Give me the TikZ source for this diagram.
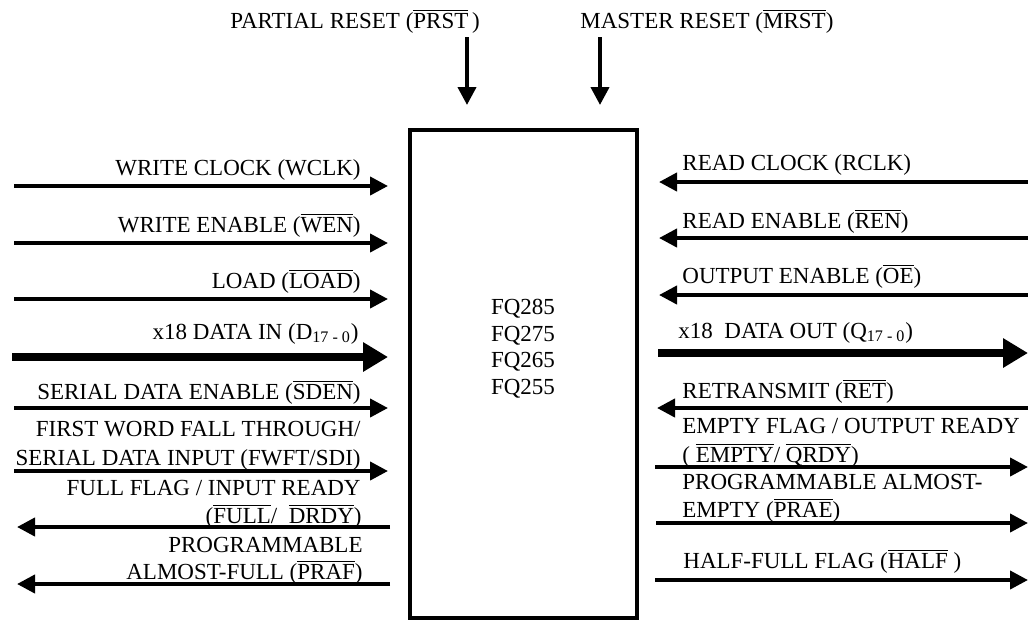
\documentclass[tikz,border=0pt]{standalone}
\usepackage{fontspec}
\setmainfont{Liberation Serif}
\usetikzlibrary{arrows.meta}
\newcommand{\olbar}[1]{$\overline{\mbox{#1}}$}
\begin{document}
\begin{tikzpicture}[x=0.5pt,y=-0.5pt,
  lbl/.style={inner sep=0pt, font=\fontsize{11.5pt}{14pt}\selectfont},
  lft/.style={lbl, anchor=base east},
  rgt/.style={lbl, anchor=base west},
  sig/.style={line width=2pt, -{Triangle[length=9pt,width=9pt]}},
  bus/.style={line width=4pt, -{Triangle[length=12.5pt,width=14pt]}},
  chip/.style={draw, line width=2pt, minimum width=113.5pt, minimum height=244pt, inner sep=0pt}
]
\useasboundingbox (0,0) rectangle (1028,622);

% chip
\node[chip] (chip) at (523.5,374) {};
\node[lbl, align=center, font=\fontsize{11.5pt}{13.25pt}\selectfont, anchor=base] (fq) at (523,394)
  {FQ285\\FQ275\\FQ265\\FQ255};

% top resets
\node[lbl, anchor=base west] (prstl) at (230,28) {PARTIAL RESET (\olbar{PRST}\,)};
\node[lbl, anchor=base west] (mrstl) at (580,28) {MASTER RESET (\olbar{MRST})};
\coordinate (prstA) at (467,37);  \coordinate (prstB) at (467,105);
\coordinate (mrstA) at (600,37);  \coordinate (mrstB) at (600,105);
\draw[sig] (prstA) -- (prstB);
\draw[sig] (mrstA) -- (mrstB);

% left side inputs
\coordinate (wclkA) at (14,186);  \coordinate (wclkB) at (388,186);
\coordinate (wenA) at (14,243);   \coordinate (wenB) at (388,243);
\coordinate (loadA) at (14,299);  \coordinate (loadB) at (388,299);
\coordinate (dinA) at (12,357);   \coordinate (dinB) at (388,357);
\coordinate (sdenA) at (14,408);  \coordinate (sdenB) at (388,408);
\coordinate (fwftA) at (14,471);  \coordinate (fwftB) at (388,471);
\coordinate (fullA) at (390,527); \coordinate (fullB) at (17,527);
\coordinate (prafA) at (390,584); \coordinate (prafB) at (17,584);

\draw[sig] (wclkA) -- (wclkB);
\draw[sig] (wenA) -- (wenB);
\draw[sig] (loadA) -- (loadB);
\draw[bus] (dinA) -- (dinB);
\draw[sig] (sdenA) -- (sdenB);
\draw[sig] (fwftA) -- (fwftB);
\draw[sig] (fullA) -- (fullB);
\draw[sig] (prafA) -- (prafB);

\node[lft] (wclkl) at (361,175) {WRITE CLOCK (WCLK)};
\node[lft] (wenl) at (361,232) {WRITE ENABLE (\olbar{WEN})};
\node[lft] (loadl) at (361,288) {LOAD (\olbar{LOAD})};
\node[lft] (dinl) at (359,339) {x18 DATA IN (D\textsubscript{17 - 0})};
\node[lft] (sdenl) at (361,399) {SERIAL DATA ENABLE (\olbar{SDEN})};
\node[lft] (fwftl1) at (361,436) {FIRST WORD FALL THROUGH/};
\node[lft] (fwftl2) at (361,465) {SERIAL DATA INPUT (FWFT/SDI)};
\node[lft] (fulll1) at (361,495) {FULL FLAG / INPUT READY};
\node[lft] (fulll2) at (362,523) {(\olbar{FULL}/\ \ \olbar{DRDY})};
\node[lft] (prafl1) at (363,552) {PROGRAMMABLE};
\node[lft] (prafl2) at (363,579) {ALMOST-FULL (\olbar{PRAF})};

% right side
\coordinate (rclkA) at (1028,182); \coordinate (rclkB) at (659,182);
\coordinate (renA) at (1028,238);  \coordinate (renB) at (659,238);
\coordinate (oeA) at (1028,295);   \coordinate (oeB) at (659,295);
\coordinate (doutA) at (658,353);  \coordinate (doutB) at (1028,353);
\coordinate (retA) at (1028,408);  \coordinate (retB) at (657,408);
\coordinate (emptyA) at (655,467); \coordinate (emptyB) at (1028,467);
\coordinate (praeA) at (656,523);  \coordinate (praeB) at (1028,523);
\coordinate (halfA) at (655,580);  \coordinate (halfB) at (1028,580);

\draw[sig] (rclkA) -- (rclkB);
\draw[sig] (renA) -- (renB);
\draw[sig] (oeA) -- (oeB);
\draw[bus] (doutA) -- (doutB);
\draw[sig] (retA) -- (retB);
\draw[sig] (emptyA) -- (emptyB);
\draw[sig] (praeA) -- (praeB);
\draw[sig] (halfA) -- (halfB);

\node[rgt] (rclkl) at (682,170) {READ CLOCK (RCLK)};
\node[rgt] (renl) at (682,228) {READ ENABLE (\olbar{REN})};
\node[rgt] (oel) at (682,283) {OUTPUT ENABLE (\olbar{OE})};
\node[rgt] (doutl) at (678,338) {x18\ \ DATA OUT (Q\textsubscript{17 - 0})};
\node[rgt] (retl) at (682,398) {RETRANSMIT (\olbar{RET})};
\node[rgt] (emptyl1) at (682,433) {EMPTY FLAG / OUTPUT READY};
\node[rgt] (emptyl2) at (682,462) {( \olbar{EMPTY}/ \olbar{QRDY})};
\node[rgt] (prael1) at (682,489) {PROGRAMMABLE ALMOST-};
\node[rgt] (prael2) at (682,517) {EMPTY (\olbar{PRAE})};
\node[rgt] (halfl) at (683,568) {HALF-FULL FLAG (\olbar{HALF}\ )};
\end{tikzpicture}
\end{document}
